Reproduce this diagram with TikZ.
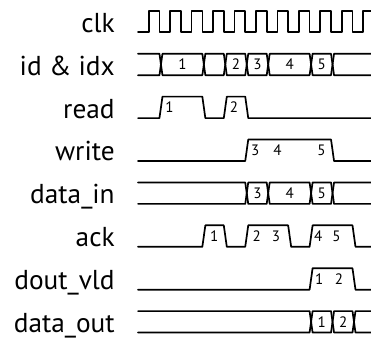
\documentclass[tikz,border=0pt]{standalone}
\usepackage{fontspec}
\setmainfont{PT Sans}

\begin{document}
\begin{tikzpicture}[x=0.4cm,y=0.4cm,
  wave/.style={line width=0.9pt,line join=round,line cap=round},
  signame/.style={anchor=base east,inner sep=0pt,font=\fontsize{14.5}{16}\selectfont},
  val/.style={inner sep=0pt,font=\fontsize{8}{9}\selectfont}]
  \useasboundingbox (-6.434,-14.252) rectangle (10.863,1.506);

  % signal names, baseline on the low level of each row
  \node[signame] (clk)     at (-1.07,0)   {clk};
  \node[signame] (ididx)   at (-1.07,-2)  {id \& idx};
  \node[signame] (read)    at (-1.07,-4)  {read};
  \node[signame] (write)   at (-1.07,-6)  {write};
  \node[signame] (datain)  at (-1.07,-8)  {data\_in};
  \node[signame] (ack)     at (-1.07,-10) {ack};
  \node[signame] (doutvld) at (-1.07,-12) {dout\_vld};
  \node[signame] (dataout) at (-1.07,-14) {data\_out};

  % clock: half a unit per level
  \draw[wave] (0,0) -- (0.5,0)
    \foreach \t in {0.5,1.5,...,9.5} { -- (\t,1) -- (\t+0.5,1) -- (\t+0.5,0) -- (\t+1,0) }
    -- (10.5,0) -- (10.5,1) -- (10.9,1);

  % id & idx bus
  \draw[wave] (0,-1) -- (1,-1) -- (1.07,-1.5) -- (1,-2) -- (0,-2);
  \foreach \a/\b in {1/3,3/4,4/5,5/6,6/8,8/9}
    \draw[wave] (\a+0.07,-1.5) -- (\a+0.14,-1) -- (\b,-1) -- (\b+0.07,-1.5)
      -- (\b,-2) -- (\a+0.14,-2) -- cycle;
  \draw[wave] (10.9,-1) -- (9.14,-1) -- (9.07,-1.5) -- (9.14,-2) -- (10.9,-2);
  \foreach \v/\t in {1/2.07,2/4.57,3/5.57,4/7.07,5/8.57}
    \node[val] (id\v) at (\t,-1.5) {\v};

  % read
  \draw[wave] (0,-4) -- (1,-4) -- (1.14,-3) -- (3,-3) -- (3.14,-4) -- (4,-4)
    -- (4.14,-3) -- (5,-3) -- (5.14,-4) -- (10.9,-4);
  \node[val] (rd1) at (1.47,-3.5) {1};
  \node[val] (rd2) at (4.47,-3.5) {2};

  % write
  \draw[wave] (0,-6) -- (5,-6) -- (5.14,-5) -- (9,-5) -- (9.14,-6) -- (10.9,-6);
  \node[val] (wr3) at (5.47,-5.5) {3};
  \node[val] (wr4) at (6.5,-5.5) {4};
  \node[val] (wr5) at (8.55,-5.5) {5};

  % data_in bus
  \draw[wave] (0,-7) -- (5,-7) -- (5.07,-7.5) -- (5,-8) -- (0,-8);
  \foreach \a/\b in {5/6,6/8,8/9}
    \draw[wave] (\a+0.07,-7.5) -- (\a+0.14,-7) -- (\b,-7) -- (\b+0.07,-7.5)
      -- (\b,-8) -- (\a+0.14,-8) -- cycle;
  \draw[wave] (10.9,-7) -- (9.14,-7) -- (9.07,-7.5) -- (9.14,-8) -- (10.9,-8);
  \foreach \v/\t in {3/5.57,4/7.07,5/8.57}
    \node[val] (di\v) at (\t,-7.5) {\v};

  % ack
  \draw[wave] (0,-10) -- (3,-10) -- (3.14,-9) -- (4,-9) -- (4.14,-10) -- (5,-10)
    -- (5.14,-9) -- (7,-9) -- (7.14,-10) -- (8,-10) -- (8.14,-9) -- (10,-9)
    -- (10.14,-10) -- (10.9,-10);
  \foreach \v/\t in {1/3.55,2/5.53,3/6.43,4/8.4,5/9.25}
    \node[val] (ack\v) at (\t,-9.5) {\v};

  % dout_vld
  \draw[wave] (0,-12) -- (8,-12) -- (8.14,-11) -- (10,-11) -- (10.14,-12) -- (10.9,-12);
  \node[val] (dv1) at (8.45,-11.5) {1};
  \node[val] (dv2) at (9.37,-11.5) {2};

  % data_out bus
  \draw[wave] (0,-13) -- (8,-13) -- (8.07,-13.5) -- (8,-14) -- (0,-14);
  \foreach \a/\b in {8/9,9/10}
    \draw[wave] (\a+0.07,-13.5) -- (\a+0.14,-13) -- (\b,-13) -- (\b+0.07,-13.5)
      -- (\b,-14) -- (\a+0.14,-14) -- cycle;
  \draw[wave] (10.9,-13) -- (10.14,-13) -- (10.07,-13.5) -- (10.14,-14) -- (10.9,-14);
  \foreach \v/\t in {1/8.57,2/9.57}
    \node[val] (do\v) at (\t,-13.5) {\v};
\end{tikzpicture}
\end{document}
